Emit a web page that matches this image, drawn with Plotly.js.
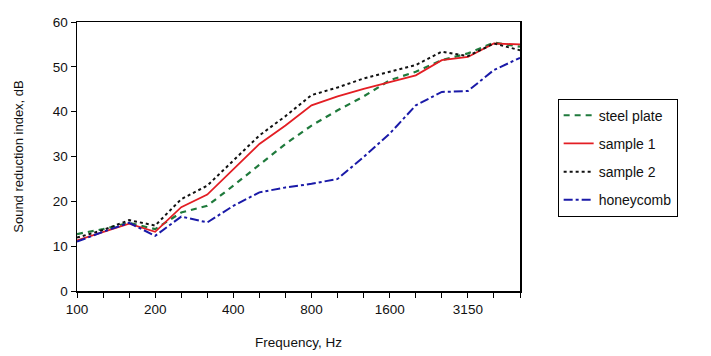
<!DOCTYPE html>
<html>
<head>
<meta charset="utf-8">
<script src="https://cdn.plot.ly/plotly-3.0.1.min.js"></script>
<style>html,body{margin:0;padding:0;background:#fff;}#chart{width:711px;height:356px;}</style>
</head>
<body>
<div id="chart"></div>
<script>
const frequencies = ['100','125','160','200','250','315','400','500','630','800','1000','1250','1600','2000','2500','3150','4000','5000'];
const labelledFrequencies = ['100','200','400','800','1600','3150'];
const steelPlate = [12.7,13.8,15.2,13.8,17.5,19.0,23.5,28.2,32.8,36.9,40.3,43.4,47.0,48.9,51.5,53.0,55.4,54.5];
const sample1 = [11.3,13.1,15.0,13.2,18.7,21.5,27.2,32.8,36.9,41.4,43.4,45.1,46.6,48.1,51.5,52.2,55.2,55.0];
const sample2 = [11.9,13.6,15.8,14.6,20.5,23.5,29.1,34.7,39.0,43.7,45.4,47.4,48.9,50.4,53.4,52.4,55.2,53.7];
const honeycomb = [11.0,13.2,15.2,12.3,16.6,15.3,19.0,22.0,23.1,23.9,25.0,29.9,35.1,41.4,44.4,44.6,49.3,52.0];

const tickText = frequencies.map(f => labelledFrequencies.includes(f) ? f : '');

const traces = [
  {x: frequencies, y: steelPlate, name: 'steel plate', legendgroup: 'a', mode: 'lines', line: {color: '#1f7a3c', width: 2.2, dash: '6px,5px'}},
  {x: frequencies, y: sample1, name: 'sample 1', legendgroup: 'b', mode: 'lines', line: {color: '#e31e24', width: 1.8}},
  {x: frequencies, y: sample2, name: 'sample 2', legendgroup: 'c', mode: 'lines', line: {color: '#111111', width: 2, dash: 'dot'}},
  {x: frequencies, y: honeycomb, name: 'honeycomb', legendgroup: 'd', mode: 'lines', line: {color: '#1a1aa8', width: 2, dash: 'dashdot'}}
];

const layout = {
  width: 711, height: 356,
  margin: {l: 77, r: 191, t: 22, b: 65},
  paper_bgcolor: '#ffffff', plot_bgcolor: '#ffffff',
  font: {family: 'Liberation Sans, Arial, sans-serif', size: 13, color: '#111'},
  showlegend: true,
  legend: {x: 1.085, y: 0.715, xanchor: 'left', yanchor: 'top', bordercolor: '#000', borderwidth: 1, bgcolor: '#fff', font: {size: 14}, tracegroupgap: 7, itemwidth: 30},
  xaxis: {
    type: 'category', range: [0, 17],
    tickmode: 'array', tickvals: frequencies, ticktext: tickText,
    ticks: 'outside', ticklen: 5, tickcolor: '#000',
    showline: true, mirror: true, linecolor: '#000', linewidth: 1.5,
    showgrid: false, zeroline: false,
    tickfont: {size: 13.5},
    title: {text: 'Frequency, Hz', font: {size: 13.5}, standoff: 22}
  },
  yaxis: {
    range: [0, 60], dtick: 10, tick0: 0,
    ticks: 'outside', ticklen: 5, tickcolor: '#000',
    showline: true, mirror: true, linecolor: '#000', linewidth: 1.5,
    showgrid: false, zeroline: false,
    tickfont: {size: 13.5},
    title: {text: 'Sound reduction index, dB', font: {size: 13}, standoff: 26}
  }
};

Plotly.newPlot('chart', traces, layout, {displayModeBar: false, staticPlot: true});
</script>
</body>
</html>
